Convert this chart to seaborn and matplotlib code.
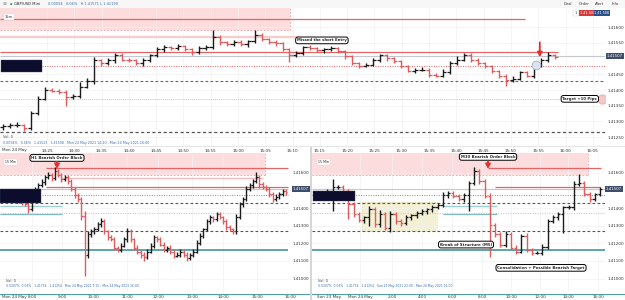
import numpy as np
import matplotlib
matplotlib.use("Agg")
import matplotlib.pyplot as plt
import matplotlib.transforms as mtransforms
from matplotlib.patches import Rectangle
import seaborn as sns

# prices are stored as points (1e-5) above 1.41000
BASE = 1.41
PT = 1e-5

# ---- top panel: 1 min bars
c_top = [286, 289, 289, 280, 328, 373, 401, 398, 395, 379,
         382, 411, 430, 494, 485, 494, 513, 497, 494, 485,
         494, 510, 529, 536, 533, 539, 529, 520, 533, 536,
         568, 552, 545, 552, 545, 555, 574, 561, 552, 549,
         529, 513, 517, 536, 533, 526, 529, 533, 523, 507,
         485, 478, 481, 494, 510, 501, 491, 475, 462, 465,
         465, 449, 446, 456, 485, 497, 513, 497, 485, 475,
         459, 446, 433, 436, 456, 446, 478, 494, 510, 504]
wu_top = [6, 5, 8, 4, 6, 8, 10, 6, 5, 4, 6, 16, 8, 10, 6, 8, 6, 5, 6, 5,
          8, 6, 8, 6, 5, 8, 5, 6, 6, 8, 22, 6, 5, 6, 8, 5, 16, 6, 5, 6,
          4, 6, 8, 5, 6, 5, 6, 8, 5, 4, 6, 5, 6, 8, 5, 6, 5, 4, 6, 5,
          8, 5, 6, 10, 8, 10, 5, 6, 5, 4, 6, 5, 6, 8, 5, 6, 10, 8, 12, 6]
wd_top = [8, 6, 5, 10, 6, 8, 6, 5, 8, 29, 6, 8, 6, 10, 8, 6, 8, 6, 5, 6,
          8, 5, 6, 8, 6, 5, 6, 8, 6, 5, 6, 8, 6, 5, 6, 8, 6, 5, 6, 8,
          6, 25, 8, 6, 5, 6, 8, 6, 5, 8, 6, 8, 6, 5, 6, 8, 6, 5, 6, 8,
          5, 8, 6, 5, 6, 5, 6, 8, 6, 5, 6, 8, 19, 6, 5, 6, 8, 6, 5, 6]
open0_top = 282

# ---- bottom left panel
c_bl = [478, 461, 473, 450, 438, 456, 433, 421, 393, 461, 507,
        530, 547, 576, 587, 570, 610, 587, 564, 576, 553,
        507, 473, 450, 353, 136, 250, 267, 279, 307, 324,
        267, 233, 222, 176, 164, 187, 222, 267, 222, 176,
        153, 136, 124, 153, 187, 233, 222, 193, 164, 176,
        153, 130, 136, 153, 136, 118, 136, 153, 204, 244,
        279, 324, 347, 336, 364, 347, 324, 290, 279, 267,
        347, 421, 450, 507, 530, 553, 576, 536, 519, 507,
        478, 450, 461, 478, 496, 490]
wu_bl = [15, 12, 18, 10, 14, 12, 10, 15, 12, 20, 14,
         12, 15, 10, 18, 12, 23, 10, 14, 12, 10,
         12, 10, 15, 12, 30, 20, 14, 12, 16, 18,
         12, 10, 14, 12, 10, 15, 12, 18, 14, 10,
         12, 10, 14, 12, 16, 12, 10, 14, 12, 10,
         12, 10, 14, 12, 10, 12, 10, 14, 16, 12,
         10, 14, 12, 10, 16, 12, 10, 14, 12, 10,
         20, 14, 12, 16, 12, 10, 28, 12, 14, 10,
         12, 14, 16, 12, 10, 14]
wd_bl = [12, 15, 10, 14, 12, 10, 16, 12, 23, 10, 14,
         10, 12, 15, 10, 14, 12, 10, 14, 12, 16,
         12, 14, 16, 20, 120, 18, 12, 14, 10, 12,
         14, 12, 10, 16, 12, 14, 10, 12, 14, 12,
         16, 18, 27, 12, 10, 14, 12, 10, 14, 12,
         16, 12, 10, 14, 12, 20, 14, 12, 10, 12,
         14, 10, 12, 16, 12, 10, 14, 12, 10, 14,
         12, 10, 14, 12, 10, 14, 12, 22, 12, 10,
         14, 16, 12, 10, 12, 14]
open0_bl = 470

# ---- bottom right panel
c_br = [461, 473, 496, 519, 519, 496, 421, 364, 330, 347,
        393, 307, 364, 284, 364, 324, 313, 347, 358, 370,
        381, 393, 404, 416, 473, 484, 467, 450, 473, 541,
        610, 553, 467, 301, 250, 193, 250, 176, 153, 244,
        164, 147, 147, 181, 324, 347, 364, 404, 404, 536,
        541, 478, 450, 478, 507]
wu_br = [15, 12, 14, 45, 10, 12, 14, 12, 16, 10, 17, 12, 24, 14, 20, 12, 14, 12, 10, 14,
         12, 10, 14, 12, 16, 12, 10, 14, 12, 15, 23, 12, 14, 16, 12, 14, 20, 14, 12, 10,
         14, 12, 10, 14, 16, 12, 14, 10, 12, 16, 52, 12, 14, 10, 12]
wd_br = [12, 14, 10, 115, 12, 14, 85, 12, 10, 14, 51, 12, 14, 10, 20, 12, 14, 10, 12, 14,
         10, 12, 14, 10, 12, 14, 12, 10, 14, 92, 12, 14, 10, 180, 12, 14, 12, 10, 14, 10,
         12, 14, 10, 12, 14, 10, 12, 103, 12, 14, 10, 12, 14, 12, 10]
open0_br = 455

# ---- shared levels (points)
zone = (590, 720)
ob_high = 625
ob_mid = 568
ob_low = 522
last_price = 507
entry = 475
dash1 = 430
dot1 = 372
dash2 = 267
teal = 160
khaki_box = (267, 433)

# 1.41500 is covered by the last price box
price_ticks_top = [1.4125, 1.4130, 1.4135, 1.4140, 1.4145, 1.4155, 1.4160]
price_ticks_bot = [1.4100, 1.4110, 1.4120, 1.4130, 1.4140, 1.4160]
top_times = ["14:25", "14:30", "14:35", "14:40", "14:45", "14:50", "14:55", "15:00", "15:05",
             "15:10", "15:15", "15:20", "15:25", "15:30", "15:35", "15:40", "15:45", "15:50",
             "15:55", "16:00", "16:05"]
bl_times = ["8:00", "9:00", "10:00", "11:00", "12:00", "13:00", "14:00", "15:00", "16:00"]
br_times = ["Mon 24 May", "2:00", "4:00", "6:00", "8:00", "10:00", "12:00", "14:00", "16:00"]

UP = "#1b1b1b"
DOWN = "#e05c5c"
RED = "#e26464"
FS = 3.0

sns.set_theme(style="white")
plt.rcParams["font.family"] = ["DejaVu Sans"]

fig = plt.figure(figsize=(6.25, 3), dpi=100)
W, H = 625.0, 300.0


def fax(x0, y0, x1, y1):
    return fig.add_axes([x0 / W, 1 - y1 / H, (x1 - x0) / W, (y1 - y0) / H])


def frect(x0, y0, x1, y1, **kw):
    fig.patches.append(Rectangle((x0 / W, 1 - y1 / H), (x1 - x0) / W, (y1 - y0) / H,
                                 transform=fig.transFigure, **kw))


def pr(v):
    return BASE + np.asarray(v, dtype=float) * PT


def ohlc(ax, c, wu, wd, open0, tick):
    c = np.asarray(c, float)
    o = np.r_[open0, c[:-1]]
    hi = np.maximum(o, c) + np.asarray(wu)
    lo = np.minimum(o, c) - np.asarray(wd)
    x = np.arange(len(c))
    col = np.where(c >= o, UP, DOWN)
    ax.vlines(x, pr(lo), pr(hi), colors=col, lw=1.0)
    ax.hlines(pr(o), x - tick, x, colors=col, lw=0.9)
    ax.hlines(pr(c), x, x + tick, colors=col, lw=0.9)


def style(ax, yt):
    ax.set_facecolor("white")
    sns.despine(ax=ax, left=True, bottom=True, right=True, top=True)
    ax.yaxis.tick_right()
    ax.set_yticks(yt)
    ax.set_yticklabels([f"{v:.5f}" for v in yt], fontsize=FS, color="#333333")
    ax.tick_params(axis="both", length=0, pad=2)
    ax.grid(True, color="#f1f1f1", lw=0.5)


def hline(ax, y, x0, x1, **kw):
    ax.hlines(pr(y), x0, x1, **kw)


def label(ax, x, y, s):
    ax.text(x, pr(y), s, fontsize=FS - 0.2, fontweight="bold", ha="center", va="center",
            bbox=dict(boxstyle="round,pad=0.35,rounding_size=0.6", fc="white", ec="black", lw=0.7),
            zorder=10)


def arrow(ax, x, y0, y1):
    ax.annotate("", xy=(x, pr(y1)), xytext=(x, pr(y0)),
                arrowprops=dict(arrowstyle="-|>,head_width=0.12,head_length=0.22",
                                color="#e53030", lw=1.3, shrinkA=0, shrinkB=0),
                zorder=11)


def price_box(ax, xoff):
    tr = mtransforms.blended_transform_factory(ax.transAxes, ax.transData)
    ax.text(xoff, pr(last_price), "1.41507", transform=tr, fontsize=FS - 0.2, color="white",
            va="center", ha="left", clip_on=False,
            bbox=dict(boxstyle="square,pad=0.25", fc="#3d4d6a", ec="none"), zorder=12)


# ================= TOP =================
ax = fax(0, 8, 605, 146)
n = len(c_top)
sp = 6.99
xl = (-3 / sp, n - 1 + 50 / sp)
ax.set_xlim(*xl)
ax.set_ylim(pr(222), pr(661))
style(ax, price_ticks_top)
ax.set_xticks([(47 + 27.3 * k - 3) / sp for k in range(len(top_times))])
ax.set_xticklabels(top_times, fontsize=FS, color="#333333")
z1 = (290 - 3) / sp
ax.fill_between([xl[0], z1], pr(zone[0]), pr(zone[1]), color="#fcdcdc", lw=0, zorder=0)
ax.vlines(z1, pr(zone[0]), pr(zone[1]), colors="#f29a9a", lw=0.6, linestyles=(0, (2, 2)))
hline(ax, zone[0], xl[0], z1, colors="#f29a9a", lw=0.6, linestyles=(0, (2, 2)))
hline(ax, ob_high, xl[0], (525 - 3) / sp, colors=RED, lw=0.9)
hline(ax, ob_mid, xl[0], (300 - 3) / sp, colors="#f8cccc", lw=1.6)
hline(ax, ob_low, xl[0], (558 - 3) / sp, colors=RED, lw=0.9)
hline(ax, last_price, xl[0], xl[1], colors="#c3c7cf", lw=0.8)
hline(ax, entry, (42 - 3) / sp, xl[1], colors=RED, lw=0.7, linestyles=(0, (1, 1.5)))
hline(ax, dash1, xl[0], xl[1], colors="#666666", lw=0.8, linestyles=(0, (2.5, 2)))
hline(ax, dot1, xl[0], xl[1], colors="#aaaaaa", lw=0.6, linestyles=(0, (1, 1.5)))
hline(ax, dash2, xl[0], xl[1], colors="#555555", lw=0.9, linestyles=(0, (2.5, 2)))
ohlc(ax, c_top, wu_top, wd_top, open0_top, 0.45)
label(ax, (322 - 3) / sp, 558, "Missed the short Entry")
label(ax, (580 - 3) / sp, dot1, "Target +10 Pips")
sns.scatterplot(x=[(602 - 3) / sp], y=pr([dot1]), s=45, color="#f7c6c6", edgecolor="#f0a0a0",
                linewidth=0.5, ax=ax, zorder=5, legend=False)
sns.scatterplot(x=[(536 - 3) / sp], y=pr([481]), s=40, color="#dde3ee", edgecolor="#9aa6bb",
                linewidth=0.5, ax=ax, zorder=3, legend=False)
arrow(ax, (540 - 3) / sp, 552, 505)
ax.text(0.008, 0.93, "15m", transform=ax.transAxes, fontsize=FS - 0.5,
        bbox=dict(boxstyle="square,pad=0.3", fc="white", ec="#dddddd", lw=0.3))
ax.text(0.005, 0.055, "Vol: 0", transform=ax.transAxes, fontsize=FS - 0.5, color="#444444")
ax.text(0.005, 0.015, "0.0094%   0.06%   1.41523   1.41508   Mon 24 May 2021 14:20 - Mon 24 May 2021 16:00",
        transform=ax.transAxes, fontsize=FS - 0.7, color="#3b6db3")
price_box(ax, 1.003)
frect(1, 60, 42, 72, fc="#0c0c2c", ec="#444466", lw=0.3, zorder=20)

# ================= BOTTOM LEFT =================
ax2 = fax(0, 153, 290, 292)
n = len(c_bl)
sp = 3.3
xl = (-2 / sp, n - 1 + 2 / sp)
ax2.set_xlim(*xl)
ax2.set_ylim(pr(-76), pr(712))
style(ax2, price_ticks_bot)
ax2.set_xticks([(p - 2) / sp for p in [32, 62, 93, 127, 158, 192, 223, 257, 290]])
ax2.set_xticklabels(bl_times, fontsize=FS, color="#333333")
z1 = (265 - 2) / sp
ax2.fill_between([xl[0], z1], pr(zone[0]), pr(zone[1]), color="#fcdcdc", lw=0, zorder=0)
ax2.vlines(z1, pr(zone[0]), pr(zone[1]), colors="#f29a9a", lw=0.6, linestyles=(0, (2, 2)))
hline(ax2, zone[0], xl[0], z1, colors="#f29a9a", lw=0.6, linestyles=(0, (2, 2)))
hline(ax2, ob_high, (46 - 2) / sp, xl[1], colors=RED, lw=0.9)
hline(ax2, ob_mid, (62 - 2) / sp, (263 - 2) / sp, colors="#f5b8b8", lw=0.9)
hline(ax2, ob_low, (46 - 2) / sp, xl[1], colors=RED, lw=0.9)
hline(ax2, last_price, xl[0], xl[1], colors="#c3c7cf", lw=0.8)
hline(ax2, entry, (42 - 2) / sp, xl[1], colors=RED, lw=0.7, linestyles=(0, (1, 1.5)))
hline(ax2, dash1, xl[0], xl[1], colors="#555555", lw=0.8, linestyles=(0, (2.5, 2)))
hline(ax2, 410, xl[0], (62 - 2) / sp, colors="#9ccfd0", lw=1.0)
hline(ax2, dot1, xl[0], xl[1], colors="#c8c8ea", lw=0.8, linestyles=(0, (1, 1.2)))
hline(ax2, 368, xl[0], (62 - 2) / sp, colors="#7fbcbe", lw=0.9)
hline(ax2, dash2, xl[0], xl[1], colors="#555555", lw=0.8, linestyles=(0, (2.5, 2)))
hline(ax2, teal, xl[0], xl[1], colors="#4e9ea0", lw=1.3)
ohlc(ax2, c_bl, wu_bl, wd_bl, open0_bl, 0.5)
label(ax2, (57 - 2) / sp, 684, "H1 Bearish Order Block")
arrow(ax2, (57 - 2) / sp, 662, 622)
ax2.text(0.017, 0.925, "15 Min", transform=ax2.transAxes, fontsize=FS - 0.7,
         bbox=dict(boxstyle="square,pad=0.3", fc="white", ec="#dddddd", lw=0.3))
ax2.text(0.02, 0.075, "Vol: 0", transform=ax2.transAxes, fontsize=FS - 0.5, color="#444444")
ax2.text(0.02, 0.035, "0.0307%  0.03%   1.41754   1.41254   Mon 24 May 2021 7:15 - Mon 24 May 2021 16:00",
         transform=ax2.transAxes, fontsize=FS - 0.8, color="#3b6db3")
price_box(ax2, 1.01)
frect(0, 189, 41, 203, fc="#0c0c2c", ec="#444466", lw=0.3, zorder=20)
fig.text(2 / W, 1 - 297 / H, "Mon 24 May", fontsize=FS, va="center", color="#333333")

# ================= BOTTOM RIGHT =================
ax3 = fax(312, 153, 605, 292)
n = len(c_br)
sp = 5.24
xl = (-5 / sp, n - 1 + 5 / sp)
ax3.set_xlim(*xl)
ax3.set_ylim(pr(-76), pr(712))
style(ax3, price_ticks_bot)
ax3.set_xticks([(p - 317) / sp for p in [360, 392, 422, 452, 482, 511, 540, 568, 598]])
ax3.set_xticklabels(br_times, fontsize=FS, color="#333333")
z1 = (588 - 317) / sp
ax3.fill_between([xl[0], z1], pr(zone[0]), pr(zone[1]), color="#fcdcdc", lw=0, zorder=0)
ax3.vlines(z1, pr(zone[0]), pr(zone[1]), colors="#f29a9a", lw=0.6, linestyles=(0, (2, 2)))
hline(ax3, zone[0], xl[0], z1, colors="#f29a9a", lw=0.6, linestyles=(0, (2, 2)))
kb0, kb1 = (362 - 317) / sp, (437 - 317) / sp
ax3.fill_between([kb0, kb1], pr(khaki_box[0]), pr(khaki_box[1]), color="#f4f0d4", lw=0, zorder=0)
ax3.plot([kb0, kb1, kb1, kb0, kb0], pr([khaki_box[0], khaki_box[0], khaki_box[1], khaki_box[1], khaki_box[0]]),
         color="#ddd6a8", lw=0.5, ls=(0, (2, 2)))
hline(ax3, ob_high, (488 - 317) / sp, (601 - 317) / sp, colors=RED, lw=0.9)
hline(ax3, ob_low, (495 - 317) / sp, (600 - 317) / sp, colors=RED, lw=0.9)
hline(ax3, last_price, xl[0], xl[1], colors="#c3c7cf", lw=0.8)
hline(ax3, entry, xl[0], xl[1], colors=RED, lw=0.7, linestyles=(0, (1, 1.5)))
hline(ax3, dash1, xl[0], xl[1], colors="#555555", lw=0.8, linestyles=(0, (2.5, 2)))
hline(ax3, 410, (443 - 317) / sp, (497 - 317) / sp, colors="#9ccfd0", lw=1.0)
hline(ax3, dot1, xl[0], xl[1], colors="#c8c8ea", lw=0.8, linestyles=(0, (1, 1.2)))
hline(ax3, 368, (443 - 317) / sp, (497 - 317) / sp, colors="#7fbcbe", lw=0.9)
hline(ax3, dash2, xl[0], xl[1], colors="#555555", lw=0.8, linestyles=(0, (2.5, 2)))
hline(ax3, teal, xl[0], xl[1], colors="#4e9ea0", lw=1.3)
ohlc(ax3, c_br, wu_br, wd_br, open0_br, 0.45)
label(ax3, (488 - 317) / sp, 690, "M30 Bearish Order Block")
label(ax3, (466 - 317) / sp, 193, "Break of Structure (M5)")
label(ax3, (541 - 317) / sp, 61, "Consolidation + Possible Bearish Target")
arrow(ax3, (488 - 317) / sp, 664, 622)
ax3.text(0.02, 0.925, "15 Min", transform=ax3.transAxes, fontsize=FS - 0.7,
         bbox=dict(boxstyle="square,pad=0.3", fc="white", ec="#dddddd", lw=0.3))
ax3.text(0.02, 0.075, "Vol: 0", transform=ax3.transAxes, fontsize=FS - 0.5, color="#444444")
ax3.text(0.02, 0.035, "0.0307%  0.03%   1.41754   1.41254   Sun 23 May 2021 22:00 - Mon 24 May 2021 16:00",
         transform=ax3.transAxes, fontsize=FS - 0.8, color="#3b6db3")
price_box(ax3, 1.003)
frect(313, 191, 355, 201, fc="#0c0c2c", ec="#444466", lw=0.3, zorder=20)
fig.text(317 / W, 1 - 297 / H, "Sun 23 May", fontsize=FS, va="center", color="#333333")

# ---- chrome
frect(0, 293.5, 310, 295, fc="#4e9ea0", ec="none")
frect(312, 293.5, 625, 295, fc="#4e9ea0", ec="none")
frect(309.5, 146, 311.5, 300, fc="#d6d6d6", ec="none")
frect(0, 146, 625, 147, fc="#e6e6e6", ec="none")
frect(0, 0, 625, 8, fc="#f7f7f7", ec="none")
fig.text(3 / W, 1 - 4 / H, "\u25a0", fontsize=FS, va="center", color="#bbbbbb")
fig.text(10 / W, 1 - 4 / H, "\u25cf", fontsize=FS - 1, va="center", color="#2e9c4a")
fig.text(14 / W, 1 - 4 / H, "GBP/USD Mini", fontsize=FS - 0.3, va="center", color="#222222")
fig.text(48 / W, 1 - 4 / H, "0.00094   0.06%   H 1.41571 L 1.41199", fontsize=FS - 0.5,
         va="center", color="#3b6db3")
for xx, s in [(568, "Deal"), (584, "Order"), (600, "Alert"), (615, "Info")]:
    fig.text(xx / W, 1 - 4 / H, s, fontsize=FS - 0.3, va="center", ha="center", color="#333333")
fig.text(576 / W, 1 - 13 / H, " 1 ", fontsize=FS - 0.6, va="center", ha="center", color="#333333",
         bbox=dict(boxstyle="square,pad=0.2", fc="white", ec="#cccccc", lw=0.3))
fig.text(587 / W, 1 - 13 / H, "1.41 507", fontsize=FS - 0.6, va="center", ha="center", color="white",
         bbox=dict(boxstyle="square,pad=0.2", fc="#d23c3c", ec="none"))
fig.text(602 / W, 1 - 13 / H, "1.41 508", fontsize=FS - 0.6, va="center", ha="center", color="white",
         bbox=dict(boxstyle="square,pad=0.2", fc="#2c4f88", ec="none"))
fig.text(2 / W, 1 - 150 / H, "Mon 24 May", fontsize=FS, va="center", color="#333333")

fig.savefig("out.png", dpi=100, facecolor="white")
